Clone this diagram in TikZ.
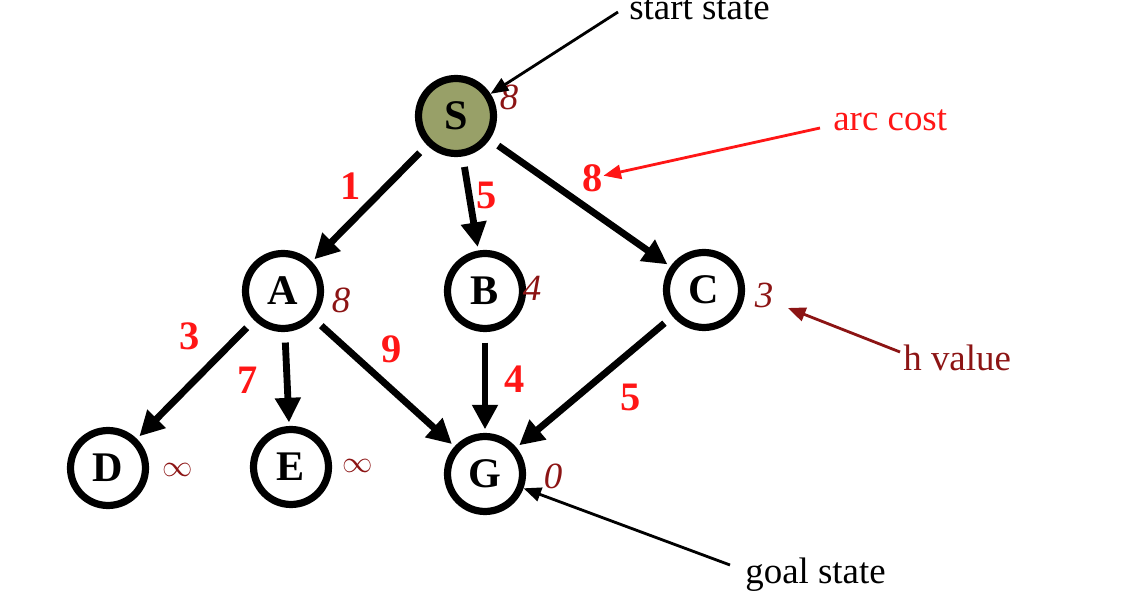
\documentclass[tikz,border=0pt]{standalone}
\usepackage{fontspec}
\setmainfont{Liberation Serif}
\usetikzlibrary{arrows.meta}
\definecolor{startfill}{RGB}{152,160,104}
\definecolor{arcred}{RGB}{255,22,22}
\definecolor{hred}{RGB}{140,20,20}
\begin{document}
\begin{tikzpicture}[x=0.02cm,y=-0.02cm,
  statenode/.style={circle,draw=black,line width=4.1pt,minimum size=1.5cm,inner sep=0pt,
    font=\fontsize{24}{24}\selectfont\bfseries},
  edge/.style={line width=3.9pt,-{Triangle[length=14pt,width=14pt]},shorten <=6pt,shorten >=2pt},
  wlabel/.style={text=arcred,font=\fontsize{23}{23}\selectfont\bfseries,inner sep=0pt},
  hlabel/.style={text=hred,font=\fontsize{21}{21}\selectfont\itshape,inner sep=0pt},
  infl/.style={text=hred,font=\fontsize{17}{17}\selectfont,inner sep=0pt},
  annot/.style={font=\fontsize{21}{21}\selectfont,inner sep=0pt},
  annarrow/.style={line width=1.6pt,-{Triangle[length=10pt,width=8pt]}}]
\useasboundingbox (0,0) rectangle (1146,597);
% states
\node[statenode,fill=startfill] (S) at (456,116) {S};
\node[statenode] (A) at (283,291) {A};
\node[statenode] (B) at (485,291) {B};
\node[statenode] (C) at (704,290) {C};
\node[statenode] (D) at (108,468) {D};
\node[statenode] (E) at (291,467) {E};
\node[statenode] (G) at (485,474) {G};
% edges
\draw[edge] (S) -- (A);
\draw[edge] (S) -- (B);
\draw[edge] (S) -- (C);
\draw[edge] (A) -- (D);
\draw[edge] (A) -- (E);
\draw[edge] (A) -- (G);
\draw[edge] (B) -- (G);
\draw[edge] (C) -- (G);
% arc costs
\node[wlabel] (wSA) at (351,186) {1};
\node[wlabel] (wSB) at (487,195) {5};
\node[wlabel] (wSC) at (593,178) {8};
\node[wlabel] (wAD) at (190,336) {3};
\node[wlabel] (wAE) at (248,380) {7};
\node[wlabel] (wAG) at (392,349) {9};
\node[wlabel] (wBG) at (515,379) {4};
\node[wlabel] (wCG) at (631,397) {5};
% h values
\node[hlabel] (hS) at (509,97) {8};
\node[hlabel] (hA) at (341,300) {8};
\node[hlabel] (hB) at (532,288) {4};
\node[hlabel] (hC) at (764,295) {3};
\node[infl] (hD) at (178,470) {$\infty$};
\node[infl] (hE) at (358,466) {$\infty$};
\node[hlabel] (hG) at (553,476) {0};
% annotations
\node[annot,anchor=west] (startlbl) at (629,9) {start state};
\node[annot,anchor=west,text=arcred] (arclbl) at (833,120) {arc cost};
\node[annot,anchor=west,text=hred] (hlbl) at (903,358) {h value};
\node[annot,anchor=west] (goallbl) at (745,575) {goal state};
\coordinate (sa) at (618,12);
\coordinate (aa) at (820,128);
\coordinate (ha) at (900,352);
\coordinate (hend) at (788,308);
\coordinate (ga) at (730,565);
\draw[annarrow] (sa) -- (S);
\draw[annarrow,draw=arcred,fill=arcred] (aa) -- (wSC);
\draw[annarrow,draw=hred,fill=hred] (ha) -- (hend);
\draw[annarrow] (ga) -- (G);
\end{tikzpicture}
\end{document}
